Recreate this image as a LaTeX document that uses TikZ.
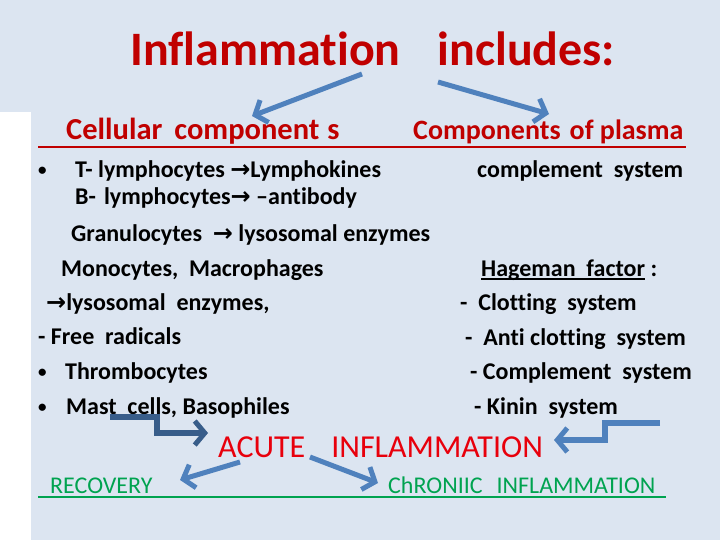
\documentclass[tikz,border=0pt]{standalone}
\usepackage{fontspec}
\setmainfont{Carlito}[Ligatures={NoCommon}]
\newfontfamily\arrfont{DejaVu Sans}
\usetikzlibrary{arrows.meta}
\definecolor{bg}{RGB}{220,229,241}
\definecolor{darkred}{RGB}{192,0,0}
\definecolor{brightred}{RGB}{232,0,12}
\definecolor{grn}{RGB}{0,163,80}
\definecolor{arrblue}{RGB}{79,129,189}
\definecolor{darkblue}{RGB}{56,93,138}
\newcommand{\rarr}{{\arrfont\bfseries →}}
\begin{document}
\begin{tikzpicture}[x=1pt,y=-1pt,
  txt/.style={anchor=base west,inner sep=0pt,font=\fontsize{24}{28}\selectfont\bfseries},
  bul/.style={anchor=base west,inner sep=0pt,font=\fontsize{17}{20}\selectfont\bfseries},
  hdr/.style={anchor=base west,inner sep=0pt,text=darkred,font=\fontsize{28}{32}\selectfont\bfseries},
  outc/.style={anchor=base west,inner sep=0pt,text=grn,font=\fontsize{24}{28}\selectfont},
  bigarrow/.style={draw=arrblue,line width=5pt,-{Straight Barb[length=10pt,width=24pt,line width=5pt]}},
  elbowarrow/.style={line width=6pt,-{Straight Barb[length=10pt,width=24pt,line width=5pt]}}
]
\fill[bg] (0,0) rectangle (720,540);
\fill[white] (0,112) rectangle (31,540);
\useasboundingbox (0,0) rectangle (720,540);

% title
\node[anchor=base west,inner sep=0pt,text=darkred,font=\fontsize{48}{52}\selectfont\bfseries] (title) at (130,66) {Inflammation\hspace{37pt}includes:};

% headers
\node[hdr,font=\fontsize{30.5}{34}\selectfont\bfseries] (cell) at (66,140) {Cellular\hspace{12pt}component\hspace{8pt}s};
\node[hdr] (plasma) at (413,140) {Components\hspace{9pt}of plasma};
\draw[darkred,line width=2pt] (38,147) -- (686,147);

% left list
\node[bul] (bul1) at (38,176) {•};
\node[txt] (tl) at (75,178) {T- lymphocytes \rarr Lymphokines};
\node[txt] (bl) at (75,205) {B-\hspace{8pt}lymphocytes\rarr\ –antibody};
\node[txt] (gr) at (71,241) {Granulocytes \ \rarr\ lysosomal enzymes};
\node[txt] (mo) at (61,276) {Monocytes,\ \ Macrophages};
\node[txt] (ly) at (46,310) {\rarr lysosomal\ \ enzymes,};
\node[txt] (fr) at (38,344) {- Free\ \ radicals};
\node[bul] (bul2) at (38,377) {•};
\node[txt] (th) at (65,379) {Thrombocytes};
\node[bul] (bul3) at (38,412) {•};
\node[txt] (ma) at (66,414) {Mast\ \ cells, Basophiles};

% right list
\node[txt] (co) at (477,178) {complement\ \ system};
\node[txt] (ha) at (481,276) {Hageman\ \ factor :};
\draw[line width=1.5pt] (481,279) -- (645,279);
\node[txt] (cl) at (460,310) {-\ \ Clotting\ \ system};
\node[txt] (an) at (465,345) {-\ \ Anti clotting\ \ system};
\node[txt] (cs) at (470,379) {- Complement\ \ system};
\node[txt] (ki) at (474,414) {- Kinin\ \ system};

% acute
\node[anchor=base west,inner sep=0pt,text=brightred,font=\fontsize{32}{36}\selectfont] (acute) at (218,457) {ACUTE\hspace{26pt}INFLAMMATION};

% outcomes
\node[outc] (rec) at (50,493) {RECOVERY};
\node[outc] (chr) at (388,493) {ChRONIIC\hspace{14pt}INFLAMMATION};
\draw[grn,line width=2pt] (38,497) -- (666,497);

% arrows from title
\coordinate (t1s) at (362,74);
\coordinate (t1e) at (252,116);
\coordinate (t2s) at (438,82);
\coordinate (t2e) at (549,114);
\draw[bigarrow] (t1s) -- (t1e);
\draw[bigarrow] (t2s) -- (t2e);

% elbow arrows
\coordinate (e1s) at (110,417);
\coordinate (e1e) at (208,433);
\draw[elbowarrow,draw=darkblue] (e1s) -- (157,417) -- (157,433) -- (e1e);
\coordinate (e2s) at (660,423);
\coordinate (e2e) at (554,440);
\draw[elbowarrow,draw=arrblue] (e2s) -- (605,423) -- (605,440) -- (e2e);

% arrows from acute
\coordinate (r1s) at (240,462);
\coordinate (r1e) at (180,480);
\coordinate (r2s) at (310,457);
\coordinate (r2e) at (378,483);
\draw[bigarrow] (r1s) -- (r1e);
\draw[bigarrow] (r2s) -- (r2e);
\end{tikzpicture}
\end{document}
